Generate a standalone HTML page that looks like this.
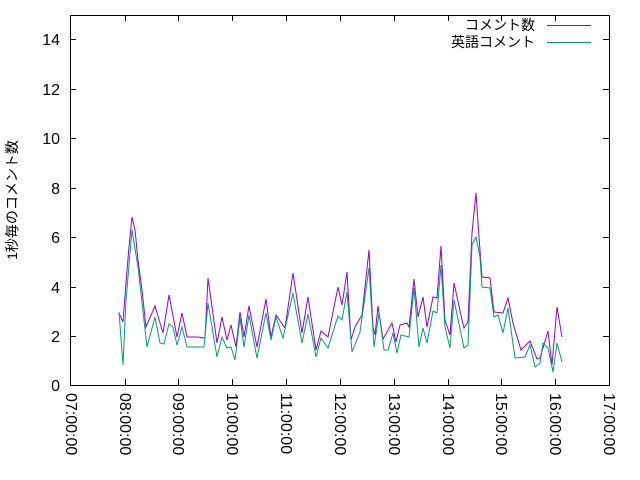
<!DOCTYPE html>
<html><head><meta charset="utf-8"><style>body{margin:0;background:#fff}svg{display:block}text{font-family:"Liberation Sans","Noto Sans CJK JP",sans-serif;font-size:16px;fill:#000}.j{font-size:14px}</style></head><body>
<svg width="640" height="480" xmlns="http://www.w3.org/2000/svg">
<g stroke="#000" stroke-width="1" fill="none">
<rect x="70.5" y="15.5" width="539" height="370"/>
<path d="M70 385.5h6M70 336.5h6M70 287.5h6M70 237.5h6M70 188.5h6M70 138.5h6M70 89.5h6M70 39.5h6M609 336.5h-6M609 287.5h-6M609 237.5h-6M609 188.5h-6M609 138.5h-6M609 89.5h-6M609 39.5h-6"/>
<path d="M125.5 385v-6M178.5 385v-6M232.5 385v-6M286.5 385v-6M340.5 385v-6M394.5 385v-6M448.5 385v-6M501.5 385v-6M555.5 385v-6M125.5 15v6M178.5 15v6M232.5 15v6M286.5 15v6M340.5 15v6M394.5 15v6M448.5 15v6M501.5 15v6M555.5 15v6"/>
</g>
<g text-anchor="end">
<text x="60" y="391">0</text><text x="60" y="342">2</text><text x="60" y="293">4</text><text x="60" y="243">6</text><text x="60" y="194">8</text><text x="60" y="144">10</text><text x="60" y="95">12</text><text x="60" y="45">14</text>
</g>
<g>
<text transform="translate(66,393) rotate(90)">07:00:00</text>
<text transform="translate(120,393) rotate(90)">08:00:00</text>
<text transform="translate(173,393) rotate(90)">09:00:00</text>
<text transform="translate(227,393) rotate(90)">10:00:00</text>
<text transform="translate(281,393) rotate(90)">11:00:00</text>
<text transform="translate(335,393) rotate(90)">12:00:00</text>
<text transform="translate(389,393) rotate(90)">13:00:00</text>
<text transform="translate(443,393) rotate(90)">14:00:00</text>
<text transform="translate(496,393) rotate(90)">15:00:00</text>
<text transform="translate(550,393) rotate(90)">16:00:00</text>
<text transform="translate(604,393) rotate(90)">17:00:00</text>
</g>
<text class="j" transform="translate(17,200) rotate(-90)" text-anchor="middle">1秒毎のコメント数</text>
<text class="j" x="535" y="30" text-anchor="end">コメント数</text>
<text class="j" x="535" y="47" text-anchor="end">英語コメント</text>
<path d="M547 25.5h44" stroke="#9400d3"/>
<path d="M547 42.5h44" stroke="#009e73"/>
<polyline fill="none" stroke="#9400d3" stroke-width="1" points="119,313 123,322 126,283 129,247 132,217 135,230 138,260 142,290 146,327 155,306 163,333 169,295 177,337 182,313 187,337 197,337 205,338 208,278 217,343 222,317 227,340 231,325 236,347 240,312 244,337 249,306 257,347 266,299 271,337 276,315 285,328 293,273 302,333 308,297 316,350 321,331 328,337 338,287 342,305 347,272 351,340 355,327 362,315 369,250 373,327 375,335 378,306 383,339 392,323 396,342 400,325 407,323 409,327 414,279 418,317 423,297 427,327 433,297 437,298 441,246 445,320 450,335 454,283 462,320 464,328 468,322 472,233 476,193 479,237 482,277 490,278 494,312 503,313 508,298 513,323 521,350 530,341 537,359 540,358 548,331 552,365 557,307 562,337"/>
<polyline fill="none" stroke="#009e73" stroke-width="1" points="119,312 123,365 126,300 132,230 138,267 147,347 155,317 160,343 164,344 169,324 173,327 177,345 182,327 187,347 204,347 208,303 217,357 222,337 227,348 231,347 235,360 240,318 244,347 249,315 257,358 266,313 271,340 276,317 283,338 293,293 302,343 308,314 316,357 321,338 328,348 338,316 342,320 347,292 352,352 360,332 369,268 374,347 379,313 384,350 388,350 393,333 397,353 401,335 409,337 414,288 419,347 423,328 427,343 433,311 437,313 441,265 445,327 450,348 454,300 464,348 468,345 472,245 476,237 480,257 482,287 490,288 494,317 498,315 503,333 508,308 515,358 525,357 530,345 535,367 540,363 543,343 548,348 553,372 557,343 562,362"/>
</svg>
</body></html>
